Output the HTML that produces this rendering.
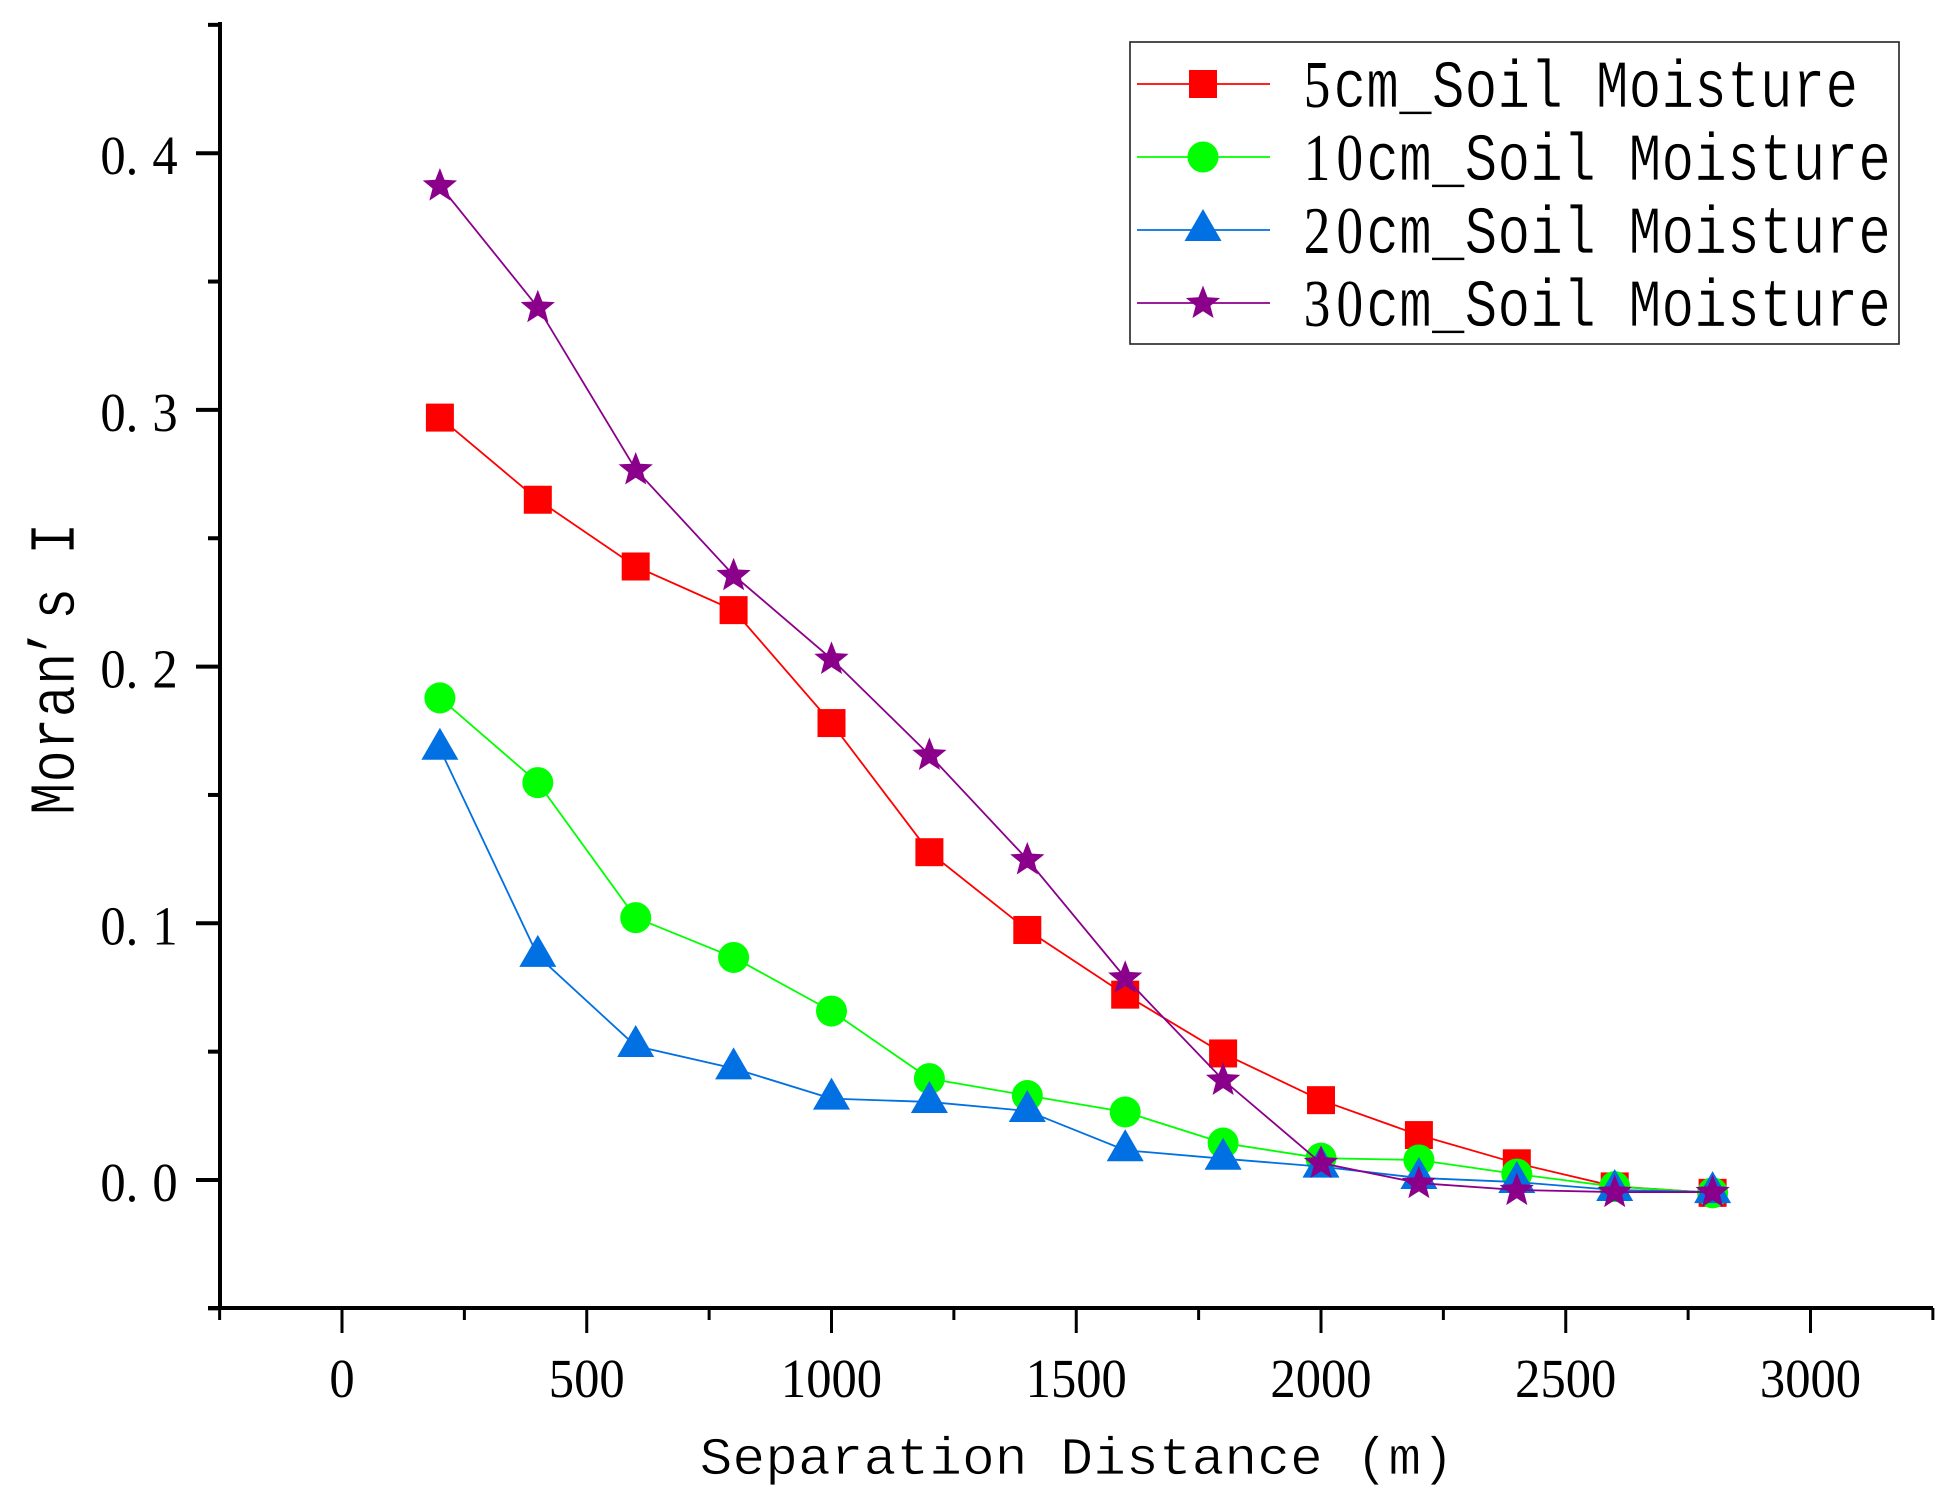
<!DOCTYPE html>
<html lang="en">
<head>
<meta charset="utf-8">
<title>Moran's I vs Separation Distance</title>
<style>
  html, body { margin: 0; padding: 0; background: #ffffff; }
  svg { display: block; }
  text { font-family: "Liberation Serif", "Noto Serif CJK SC", serif; fill: #000; }
  text.grid-mono { font-family: "Liberation Mono", "Noto Serif CJK SC", monospace; stroke: #ffffff; stroke-width: 0.7px; }
  text.grid-mono tspan { font-family: "Liberation Serif", "Noto Serif CJK SC", serif; stroke: none; }
</style>
</head>
<body>
<svg id="chart" xmlns="http://www.w3.org/2000/svg" width="1952" height="1504" viewBox="0 0 1952 1504">
  <rect x="0" y="0" width="1952" height="1504" fill="#ffffff"/>
  <g id="series-layer"></g>
  <g id="axis-layer"></g>
  <text id="x-title" class="grid-mono" font-size="53">Separation Distance (m)</text>
  <text id="y-title" class="grid-mono" font-size="65">Moran’s I</text>
  <g id="legend">
    <rect x="1130" y="42" width="769" height="302" fill="#ffffff" stroke="#222222" stroke-width="1.6"/>
    <text id="legend-5" class="grid-mono" font-size="68"><tspan font-size="66.5">5</tspan>cm_Soil Moisture</text>
    <text id="legend-10" class="grid-mono" font-size="68"><tspan font-size="66.5">10</tspan>cm_Soil Moisture</text>
    <text id="legend-20" class="grid-mono" font-size="68"><tspan font-size="66.5">20</tspan>cm_Soil Moisture</text>
    <text id="legend-30" class="grid-mono" font-size="68"><tspan font-size="66.5">30</tspan>cm_Soil Moisture</text>
  </g>
</svg>
<script>
const distances = [200, 400, 600, 800, 1000, 1200, 1400, 1600, 1800, 2000, 2200, 2400, 2600, 2800];
const moisture5cm = [0.297, 0.265, 0.239, 0.222, 0.178, 0.1277, 0.0974, 0.0722, 0.0493, 0.0311, 0.0175, 0.0065, -0.0025, -0.005];
const moisture10cm = [0.1878, 0.1548, 0.1022, 0.0867, 0.0658, 0.0395, 0.0329, 0.0265, 0.0144, 0.0085, 0.0078, 0.0023, -0.0026, -0.005];
const moisture20cm = [0.168, 0.0873, 0.0522, 0.0435, 0.0317, 0.0304, 0.0269, 0.0116, 0.0083, 0.0052, 0.0008, -0.0008, -0.0039, -0.0047];
const moisture30cm = [0.3874, 0.34, 0.2768, 0.2356, 0.203, 0.1656, 0.1249, 0.0788, 0.039, 0.0066, -0.0012, -0.0039, -0.0047, -0.0047];
const xMajorTicks = [0, 500, 1000, 1500, 2000, 2500, 3000];
const xMinorTicks = [-250, 250, 750, 1250, 1750, 2250, 2750, 3250];
const yMajorTicks = [0, 0.1, 0.2, 0.3, 0.4];
const yMinorTicks = [-0.05, 0.05, 0.15, 0.25, 0.35, 0.45];
const xTickLabels = ['0', '500', '1000', '1500', '2000', '2500', '3000'];
const yTickLabels = ['0.0', '0.1', '0.2', '0.3', '0.4'];

const SVG_NS = 'http://www.w3.org/2000/svg';
const RED = '#ff0000', GREEN = '#00ff00', BLUE = '#0070e2', PURPLE = '#8b008b';

function xScale(v) { return 342 + v * 0.4895; }
function yScale(v) { return 1180 - v * 2567; }

function make(tag, parent, props) {
  const el = document.createElementNS(SVG_NS, tag);
  for (const k in props) el.setAttribute(k, props[k]);
  parent.appendChild(el);
  return el;
}

// Lays a text element out on a fixed character grid, like a half-width CJK font.
function gridText(el, x, y, cell, sx, rotate) {
  const chars = Array.from(el.textContent);
  const xs = chars.map(function (c, i) {
    let shift = 0;
    if (c === '.' || c === '’') shift = -7;
    return (((i + 0.5) * cell + shift) / sx).toFixed(2);
  });
  el.setAttribute('x', xs.join(' '));
  el.setAttribute('text-anchor', 'middle');
  el.setAttribute('transform', 'translate(' + x + ',' + y + ')' + (rotate ? ' rotate(-90)' : '') + ' scale(' + sx + ',1)');
}

function starPoints(cx, cy, R) {
  const r = R * 0.43, pts = [];
  for (let i = 0; i < 10; i++) {
    const rad = i % 2 === 0 ? R : r;
    const a = -Math.PI / 2 + i * Math.PI / 5;
    pts.push((cx + rad * Math.cos(a)).toFixed(2) + ',' + (cy + rad * Math.sin(a)).toFixed(2));
  }
  return pts.join(' ');
}

function drawMarker(parent, shape, cx, cy, color, name) {
  let el;
  if (shape === 'square') {
    el = make('rect', parent, { x: cx - 14, y: cy - 14, width: 28, height: 28, fill: color });
  } else if (shape === 'circle') {
    el = make('circle', parent, { cx: cx, cy: cy, r: 15.5, fill: color });
  } else if (shape === 'triangle') {
    el = make('polygon', parent, { points: cx + ',' + (cy - 21) + ' ' + (cx + 18.5) + ',' + (cy + 11) + ' ' + (cx - 18.5) + ',' + (cy + 11), fill: color });
  } else {
    el = make('polygon', parent, { points: starPoints(cx, cy + 0.5, 18), fill: color });
  }
  
  
  return el;
}

function drawSeries(values, color, shape, name) {
  const layer = document.getElementById('series-layer');
  const g = make('g', layer, {});
  
  
  const pts = values.map(function (v, i) { return xScale(distances[i]).toFixed(2) + ',' + yScale(v).toFixed(2); }).join(' ');
  const line = make('polyline', g, { points: pts, fill: 'none', stroke: color, 'stroke-width': 1.8 });
  
  
  values.forEach(function (v, i) {
    drawMarker(g, shape, xScale(distances[i]), yScale(v), color, name + '-marker');
  });
}

function drawAxes() {
  const layer = document.getElementById('axis-layer');
  const yAxis = make('line', layer, { x1: 220, y1: 22, x2: 220, y2: 1310, stroke: '#000', 'stroke-width': 4 });
  
  
  const xAxis = make('line', layer, { x1: 208, y1: 1308, x2: 1933, y2: 1308, stroke: '#000', 'stroke-width': 4 });
  
  

  xMajorTicks.forEach(function (v, i) {
    const px = xScale(v);
    const t = make('line', layer, { x1: px, y1: 1308, x2: px, y2: 1333, stroke: '#000', 'stroke-width': 3 });
    
    
    const lbl = make('text', layer, { 'font-size': 55 });
    lbl.textContent = xTickLabels[i];
    
    
    gridText(lbl, px - xTickLabels[i].length * 25.3 / 2, 1397, 25.3, 0.92, false);
  });
  xMinorTicks.forEach(function (v) {
    const px = xScale(v);
    const t = make('line', layer, { x1: px, y1: 1308, x2: px, y2: 1320, stroke: '#000', 'stroke-width': 3 });
    
    
  });
  yMajorTicks.forEach(function (v, i) {
    const py = yScale(v);
    const t = make('line', layer, { x1: 196, y1: py, x2: 220, y2: py, stroke: '#000', 'stroke-width': 4 });
    
    
    const lbl = make('text', layer, { 'font-size': 55 });
    lbl.textContent = yTickLabels[i];
    
    
    gridText(lbl, 100, py + 21, 26, 0.92, false);
  });
  yMinorTicks.forEach(function (v) {
    const py = yScale(v);
    const t = make('line', layer, { x1: 208, y1: py, x2: 220, y2: py, stroke: '#000', 'stroke-width': 4 });
    
    
  });
}

function drawLegendHandle(y, color, shape, name) {
  const legend = document.getElementById('legend');
  const line = make('line', legend, { x1: 1137, y1: y, x2: 1270, y2: y, stroke: color, 'stroke-width': 1.8 });
  
  
  drawMarker(legend, shape, 1203, y, color, name + '-legend-marker');
}

drawSeries(moisture5cm, RED, 'square', '5cm');
drawSeries(moisture10cm, GREEN, 'circle', '10cm');
drawSeries(moisture20cm, BLUE, 'triangle', '20cm');
drawSeries(moisture30cm, PURPLE, 'star', '30cm');
drawAxes();
drawLegendHandle(84, RED, 'square', '5cm');
drawLegendHandle(157, GREEN, 'circle', '10cm');
drawLegendHandle(230, BLUE, 'triangle', '20cm');
drawLegendHandle(303, PURPLE, 'star', '30cm');

gridText(document.getElementById('x-title'), 699.6, 1474, 32.8, 1.03, false);
gridText(document.getElementById('y-title'), 74, 815, 32.5, 0.83, true);
gridText(document.getElementById('legend-5'), 1300.6, 107, 32.8, 0.8, false);
gridText(document.getElementById('legend-10'), 1300.6, 180, 32.8, 0.8, false);
gridText(document.getElementById('legend-20'), 1300.6, 253, 32.8, 0.8, false);
gridText(document.getElementById('legend-30'), 1300.6, 326, 32.8, 0.8, false);
</script>
</body>
</html>
